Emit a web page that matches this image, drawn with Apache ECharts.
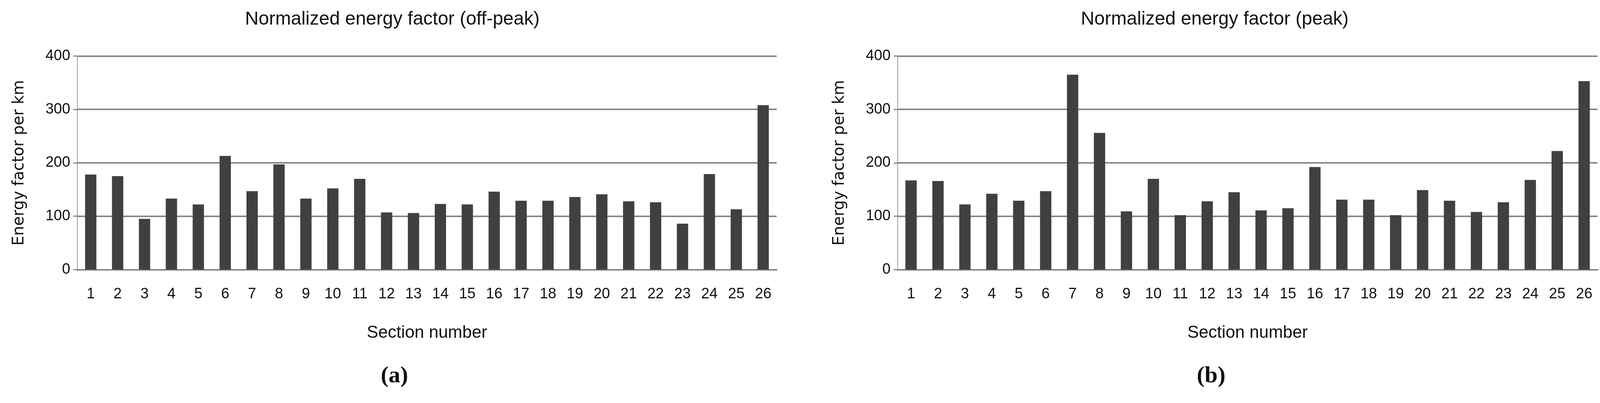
<!DOCTYPE html>
<html><head><meta charset="utf-8">
<script src="https://cdn.jsdelivr.net/npm/echarts@6/dist/echarts.min.js"></script>
<style>html,body{margin:0;padding:0;background:#fff;overflow:hidden}#c{width:100vw;height:100vh}</style>
</head><body><div id="c"></div>
<script>
const categories = Array.from({length:26},(_,i)=>String(i+1));
const offPeak = [178,175,95,133,122,213,147,197,133,152,170,107,106,123,122,146,129,129,136,141,128,126,86,179,113,308];
const peak = [167,166,122,142,129,147,365,256,109,170,102,128,145,111,115,192,131,131,102,149,129,108,126,168,222,353];
const yTicks = [0,100,200,300,400];
const titles = ['Normalized energy factor (off-peak)','Normalized energy factor (peak)'];
const panelLabels = ['a','b'];

const grids = [{left:'4.83%',right:'51.46%',top:'13.9%',bottom:'33.1%'},{left:'56.1%',right:'0.15%',top:'13.9%',bottom:'33.1%'}];
const lbl = {fontFamily:'Liberation Sans Narrow, Liberation Sans, sans-serif',color:'#111'};
const opt = {animation:false,backgroundColor:'#fff',
 title: titles.map((t,i)=>({text:t,left:i?'75.8%':'24.4%',top:'2%',textAlign:'center',textStyle:{...lbl,fontSize:48,fontWeight:'normal'}})),
 grid: grids,
 xAxis: [0,1].map(i=>({type:'category',gridIndex:i,data:categories,axisTick:{show:false},
   axisLine:{lineStyle:{color:'#888',width:4}},axisLabel:{...lbl,fontSize:38,margin:44},
   name:'Section number',nameLocation:'middle',nameGap:140,nameTextStyle:{...lbl,fontSize:44}})),
 yAxis: [0,1].map(i=>({type:'value',gridIndex:i,min:0,max:400,interval:100,
   axisLine:{show:true,lineStyle:{color:'#999',width:2}},axisTick:{show:true,length:10,lineStyle:{color:'#888',width:3}},
   splitLine:{lineStyle:{color:'#888',width:4}},
   axisLabel:{...lbl,fontSize:38,margin:18,formatter:v=>yTicks.includes(v)?String(v):''},
   name:'Energy factor per km',nameLocation:'middle',nameGap:128,
   nameTextStyle:{fontFamily:'DejaVu Sans',fontSize:40,color:'#111'}})),
 series: [offPeak,peak].map((d,i)=>({type:'bar',xAxisIndex:i,yAxisIndex:i,data:d,barWidth:'42%',itemStyle:{color:'#404040'}})),
 graphic: panelLabels.map((p,i)=>({type:'text',left:i?'74.8%':'23.8%',top:'90.5%',
   style:{text:'('+p+')',fontFamily:'Liberation Serif',fontSize:60,fill:'#111',fontWeight:'bold'}}))
};
const ch = echarts.init(document.getElementById('c'));
ch.setOption(opt);
window.addEventListener('resize',()=>ch.resize());
</script></body></html>
